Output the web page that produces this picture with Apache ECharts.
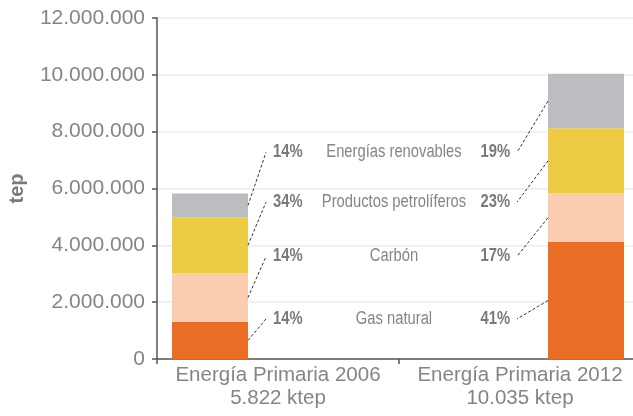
<!DOCTYPE html>
<html>
<head>
<meta charset="utf-8">
<script src="https://cdn.jsdelivr.net/npm/echarts@6/dist/echarts.min.js"></script>
<style>
  html, body { margin: 0; padding: 0; background: #fff; }
  #chart { width: 633px; height: 416px; }
</style>
</head>
<body>
<div id="chart"></div>
<script>
// categories
const years = ['Energía Primaria 2006', 'Energía Primaria 2012']
const totals = ['5.822 ktep', '10.035 ktep']
const sources = ['Gas natural', 'Carbón', 'Productos petrolíferos', 'Energías renovables']

// tep (bottom to top)
const gasNatural = [1310000, 4117000]
const carbon = [1705000, 1713000]
const petroliferos = [1970000, 2287000]
const renovables = [837000, 1918000]

// percentage labels as printed, same order as sources
const pct2006 = ['14%', '14%', '34%', '14%']
const pct2012 = ['41%', '17%', '23%', '19%']

// y levels (tep) of the label rows
const labelRows = [1410000, 3610000, 5520000, 7270000]

const colors = ['#e96d24', '#f9cdb0', '#edcb44', '#bcbdc0']
const serieValues = [gasNatural, carbon, petroliferos, renovables]

const BAR_W = 76
const leaderLen = [18, 31]
const textGray = '#858585'
const FONT = '"Liberation Sans", Arial, sans-serif'
const NARROW = 0.82

function fmt(v) {
    return String(v).replace(/\B(?=(\d{3})+(?!\d))/g, '.')
}

// annotation items: [yearIndex, segment middle, row level, source index]
let annot = []
for (let y = 0; y < years.length; y++) {
    let base = 0
    for (let s = 0; s < sources.length; s++) {
        let v = serieValues[s][y]
        annot.push([y, base + v / 2, labelRows[s], s])
        base += v
    }
}

let barSeries = sources.map(function (name, s) {
    return {
        name: name,
        type: 'bar',
        stack: 'total',
        xAxisIndex: 1,
        yAxisIndex: 1,
        barWidth: BAR_W,
        itemStyle: { color: colors[s] },
        data: serieValues[s]
    }
})

function narrowText(text, x, y, align, bold, fill) {
    return {
        type: 'text',
        x: x,
        y: y,
        scaleX: NARROW,
        style: {
            text: text,
            x: 0,
            y: 0,
            align: align,
            verticalAlign: 'middle',
            fill: fill,
            font: (bold ? 'bold ' : '') + '18px ' + FONT
        }
    }
}

let annotSeries = {
    type: 'custom',
    xAxisIndex: 1,
    yAxisIndex: 1,
    silent: true,
    z: 5,
    data: annot,
    renderItem: function (params, api) {
        let yi = api.value(0)
        let si = api.value(3)
        let pA = api.coord([yi, api.value(1)])
        let pR = api.coord([yi, api.value(2)])
        let side = yi === 0 ? 1 : -1
        let x0 = pA[0] + side * BAR_W / 2
        let x1 = pA[0] + side * (BAR_W / 2 + leaderLen[yi])
        let children = [
            {
                type: 'line',
                shape: { x1: x0, y1: pA[1], x2: x1, y2: pR[1] },
                style: { stroke: '#333', lineWidth: 1, lineDash: [3, 2] }
            },
            narrowText((yi === 0 ? pct2006 : pct2012)[si], x1 + side * 7, pR[1],
                yi === 0 ? 'left' : 'right', true, '#7a7a7a')
        ]
        if (yi === 1) {
            let cx = (api.coord([0, 0])[0] + api.coord([1, 0])[0]) / 2 - 4
            children.push(narrowText(sources[si], cx, pR[1], 'center', false, textGray))
        }
        return { type: 'group', children: children }
    }
}

var chart = echarts.init(document.getElementById('chart'))
chart.setOption({
    animation: false,
    grid: [
        { left: 157, width: 484, top: 18, bottom: 57, outerBoundsMode: 'none', containLabel: false },
        // bars sit in their own grid so they land off-centre like the original
        { left: 22, width: 752, top: 18, bottom: 57, outerBoundsMode: 'none', containLabel: false }
    ],
    xAxis: [
        {
            type: 'category',
            gridIndex: 0,
            data: years.map(function (y, i) { return y + '\n' + totals[i] }),
            boundaryGap: true,
            axisLine: { lineStyle: { color: '#555', width: 1.5 } },
            axisTick: { show: true, length: 5, lineStyle: { color: '#555', width: 1.5 } },
            axisLabel: {
                interval: 0,
                color: textGray,
                fontSize: 20.5,
                lineHeight: 23,
                margin: 5,
                fontFamily: FONT
            },
            splitLine: { show: false }
        },
        {
            type: 'category',
            gridIndex: 1,
            show: false,
            data: years
        }
    ],
    yAxis: [
        {
            type: 'value',
            gridIndex: 0,
            min: 0,
            max: 12000000,
            interval: 2000000,
            name: 'tep',
            nameLocation: 'middle',
            nameGap: 130,
            nameTextStyle: {
                color: '#7a7a7a',
                fontSize: 20,
                fontWeight: 'bold',
                fontFamily: FONT
            },
            axisLine: { show: true, lineStyle: { color: '#555', width: 1.5 } },
            axisTick: { show: true, length: 5, lineStyle: { color: '#555', width: 1.5 } },
            axisLabel: {
                color: textGray,
                fontSize: 21,
                margin: 12,
                fontFamily: FONT,
                formatter: fmt
            },
            splitLine: { lineStyle: { color: '#ececec', width: 1.5 } }
        },
        {
            type: 'value',
            gridIndex: 1,
            show: false,
            min: 0,
            max: 12000000
        }
    ],
    series: barSeries.concat([annotSeries])
})
</script>
</body>
</html>
